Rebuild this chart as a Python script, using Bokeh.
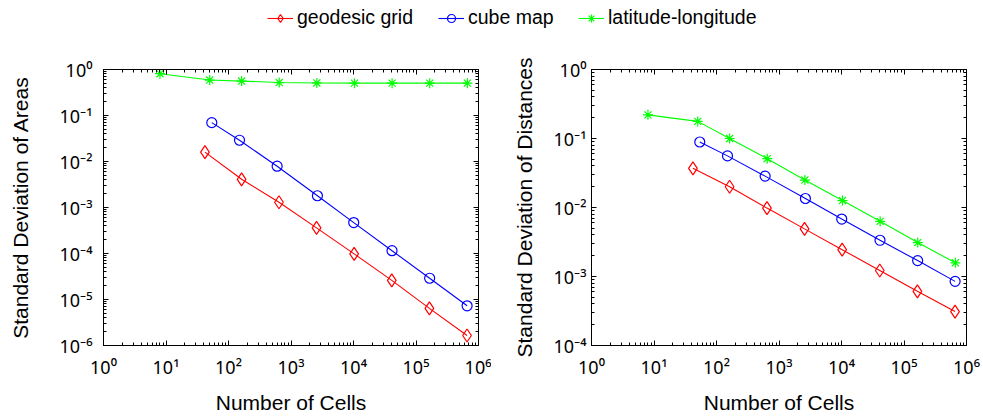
from bokeh.plotting import figure
from bokeh.layouts import column, row
from bokeh.models import (FixedTicker, LogAxis, Legend, LegendItem, ColumnDataSource)
from bokeh.embed import file_html
from bokeh.resources import INLINE

# ---------------- data ----------------
cells_geodesic = [42, 162, 642, 2562, 10242, 40962, 163842, 655362]
cells_cube = [54, 150, 600, 2646, 10086, 41334, 165336, 657366]
cells_latlon = [8, 50, 162, 648, 2592, 10368, 41472, 165888, 663552]

area_geodesic = [1.6e-2, 4.1e-3, 1.3e-3, 3.6e-4, 9.8e-5, 2.6e-5, 6.4e-6, 1.65e-6]
area_cube = [7.0e-2, 2.9e-2, 7.9e-3, 1.8e-3, 4.7e-4, 1.15e-4, 2.9e-5, 7.3e-6]
area_latlon = [0.81, 0.59, 0.56, 0.52, 0.51, 0.505, 0.505, 0.505, 0.505]

dist_geodesic = [3.7e-2, 2.0e-2, 9.8e-3, 4.9e-3, 2.45e-3, 1.22e-3, 6.1e-4, 3.1e-4]
dist_cube = [8.9e-2, 5.6e-2, 2.85e-2, 1.35e-2, 6.8e-3, 3.35e-3, 1.7e-3, 8.5e-4]
dist_latlon = [0.22, 0.177, 0.10, 0.051, 0.025, 0.0126, 0.0063, 0.0031, 0.00158]

series_names = ["geodesic grid", "cube map", "latitude-longitude"]

x_ticks = [1, 10, 100, 1000, 10000, 100000, 1000000]
x_tick_labels = ["10⁰", "10¹", "10²", "10³", "10⁴", "10⁵", "10⁶"]
y_ticks_area = [1e-6, 1e-5, 1e-4, 1e-3, 1e-2, 1e-1, 1]
y_tick_labels_area = ["10⁻⁶", "10⁻⁵", "10⁻⁴", "10⁻³", "10⁻²", "10⁻¹", "10⁰"]
y_ticks_dist = [1e-4, 1e-3, 1e-2, 1e-1, 1]
y_tick_labels_dist = ["10⁻⁴", "10⁻³", "10⁻²", "10⁻¹", "10⁰"]

# ---------------- styling ----------------
FONT = "Liberation Sans"
TICK_FONT = "Noto Sans"
RED, BLUE, GREEN = "#ff0000", "#0000ff", "#00ff00"
MARKERS = [("diamond", RED, 13), ("circle", BLUE, 10), ("asterisk", GREEN, 10)]


def minor_for(ticks):
    out = []
    for t in ticks[:-1]:
        out += [t * k for k in range(2, 10)]
    return out


def style_axis(ax, ticks, labels, show_labels):
    ax.ticker = FixedTicker(ticks=ticks, minor_ticks=minor_for(ticks))
    ax.major_tick_in = 5
    ax.major_tick_out = 0
    ax.minor_tick_in = 3
    ax.minor_tick_out = 0
    ax.axis_line_color = "black"
    ax.major_tick_line_color = "black"
    ax.minor_tick_line_color = "black"
    ax.major_label_text_font = TICK_FONT
    ax.axis_label_text_font = FONT
    ax.axis_label_text_font_style = "normal"
    ax.axis_label_text_font_size = "21px"
    ax.axis_label_text_color = "black"
    if show_labels:
        ax.major_label_overrides = {t: l for t, l in zip(ticks, labels)}
        ax.major_label_text_font_size = "18px"
        ax.major_label_text_color = "black"
    else:
        ax.major_label_text_font_size = "2px"
        ax.major_label_text_color = None
        ax.major_label_standoff = 0


def make_panel(width, borders, y_range, yticks, ylabels, ylabel, ys,
               ylab_standoff, ytitle_standoff):
    left, right, top, bottom = borders
    p = figure(width=width, height=368, x_axis_type="log", y_axis_type="log",
               x_range=(1, 1e6), y_range=y_range, toolbar_location=None,
               output_backend="svg", min_border_left=left, min_border_right=right,
               min_border_top=top, min_border_bottom=bottom)
    p.grid.visible = False
    p.outline_line_color = "black"
    style_axis(p.xaxis[0], x_ticks, x_tick_labels, True)
    style_axis(p.yaxis[0], yticks, ylabels, True)
    p.xaxis[0].axis_label = "Number of Cells"
    p.xaxis[0].major_label_standoff = 9
    p.xaxis[0].axis_label_standoff = 9
    p.yaxis[0].axis_label = ylabel
    p.yaxis[0].major_label_standoff = ylab_standoff
    p.yaxis[0].axis_label_standoff = ytitle_standoff
    ax_top = LogAxis()
    style_axis(ax_top, x_ticks, x_tick_labels, False)
    p.add_layout(ax_top, "above")
    ax_right = LogAxis()
    style_axis(ax_right, yticks, ylabels, False)
    p.add_layout(ax_right, "right")
    xs_all = [cells_geodesic, cells_cube, cells_latlon]
    for (marker, color, size), xs, yv in zip(MARKERS, xs_all, ys):
        src = ColumnDataSource(dict(x=xs, y=yv))
        p.line("x", "y", source=src, line_color=color, line_width=1.1)
        p.scatter("x", "y", source=src, marker=marker, size=size,
                  line_color=color, fill_color=None, line_width=1.2)
    return p


area_series = [area_geodesic, area_cube, area_latlon]
dist_series = [dist_geodesic, dist_cube, dist_latlon]
p1 = make_panel(491, (103, 13, 20, 70), (1e-6, 1), y_ticks_area, y_tick_labels_area,
                "Standard Deviation of Areas", area_series, 11, 25)
p2 = make_panel(492, (100, 17, 21, 70), (1e-4, 1), y_ticks_dist, y_tick_labels_dist,
                "Standard Deviation of Distances", dist_series, 5, 15)

# ---------------- legend strip ----------------
# series drawn again here only to provide legend glyphs; they fall outside this
# strip's range and are clipped away
lg = figure(width=983, height=48, x_range=(-2, -1), y_range=(-2, -1),
            toolbar_location=None, output_backend="svg", min_border=0)
lg.axis.visible = False
lg.grid.visible = False
lg.outline_line_color = None
legend_x = [267, 438, 578]
xs_all = [cells_geodesic, cells_cube, cells_latlon]
for (marker, color, size), name, lx, xs, yv in zip(MARKERS, series_names, legend_x,
                                                   xs_all, area_series):
    lr = lg.line(xs, yv, line_color=color, line_width=1.1)
    sr = lg.scatter(xs, yv, marker=marker, size=size, line_color=color,
                    fill_color=None, line_width=1.2)
    leg = Legend(items=[LegendItem(label=name, renderers=[lr, sr])],
                 location=(lx, 19), orientation="horizontal", padding=0, margin=0,
                 border_line_color=None, background_fill_alpha=0,
                 glyph_width=26, glyph_height=20, label_standoff=4,
                 label_text_font=FONT, label_text_font_size="19.5px",
                 label_text_color="black", label_height=20)
    lg.add_layout(leg, "center")

layout = column(lg, row(p1, p2))
open("out.html", "w").write(file_html(layout, INLINE))
